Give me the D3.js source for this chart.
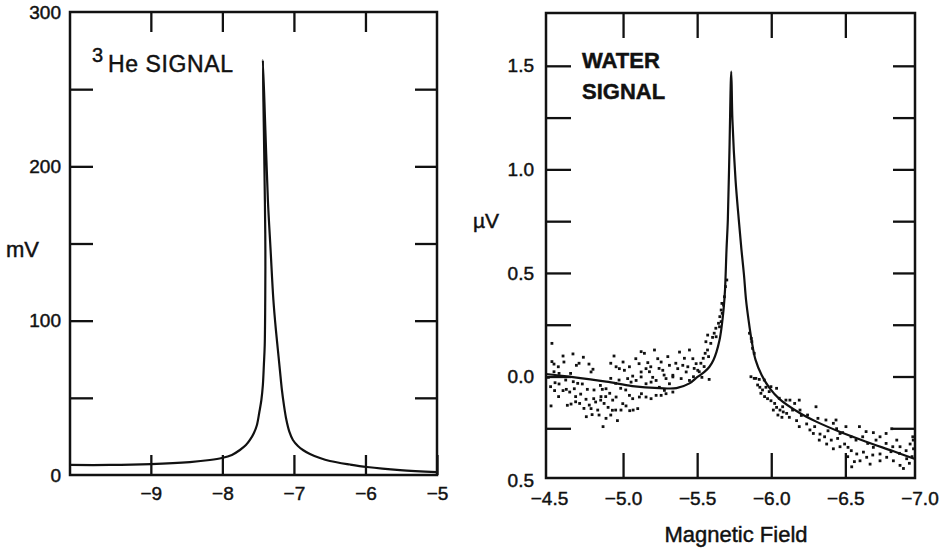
<!DOCTYPE html>
<html>
<head>
<meta charset="utf-8">
<script src="https://cdn.jsdelivr.net/npm/d3@7"></script>
<style>
  html, body { margin: 0; padding: 0; background: #fff; }
  svg { display: block; }
  text { font-family: "Liberation Sans", Arial, Helvetica, sans-serif; fill: #111; stroke: #111; stroke-width: 0.45px; }
</style>
</head>
<body>
<svg id="chart" width="940" height="552"></svg>
<script>
// ---------- DATA ----------
// Left panel: 3He signal (field, mV)
const heField  = [-10.133, -9.573, -9.0, -8.455, -8.175, -8.007, -7.867, -7.755, -7.671, -7.615, -7.559, -7.517, -7.483, -7.455,
                  -7.434, -7.420, -7.408, -7.401, -7.399, -7.406, -7.420, -7.434,
                  -7.399, -7.364, -7.326, -7.287, -7.252, -7.224, -7.196, -7.168, -7.140, -7.105, -7.063, -7.014, -6.944,
                  -6.874, -6.776, -6.636, -6.497, -6.217, -5.979, -5.517, -5.0];
const heSignal = [6.5, 6.5, 7.1, 8.4, 9.7, 11.0, 13.0, 16.2, 19.4, 22.7, 27.2, 32.4, 40.8, 48.6,
                  58.3, 71.3, 84.2, 113.4, 145.8, 178.2, 223.5, 268.9,
                  223.5, 178.2, 145.8, 113.4, 94.0, 81.0, 68.0, 55.1, 45.4, 35.6, 27.9, 22.7, 18.8,
                  16.2, 13.6, 11.0, 9.1, 6.8, 5.2, 3.2, 1.9];
const heXTicks = [-9, -8, -7, -6, -5];
const heYTicks = [0, 100, 200, 300];
const heYMinorTicks = [50, 100, 150, 200, 250];

// Right panel: water signal fit (field, µV)
const waterFitField  = [-4.48, -4.636, -4.886, -5.062, -5.245, -5.36, -5.448, -5.502, -5.549, -5.583, -5.610, -5.630, -5.651, -5.664,
                        -5.678, -5.688, -5.698, -5.707, -5.718, -5.730, -5.738, -5.759, -5.781, -5.799, -5.816, -5.830, -5.847,
                        -5.867, -5.894, -5.935, -5.989, -6.056, -6.192, -6.307, -6.483, -6.645, -6.821, -6.97];
const waterFitSignal = [0.012, -0.001, -0.025, -0.046, -0.056, -0.056, -0.033, -0.002, 0.022, 0.047, 0.080, 0.118, 0.176, 0.234,
                        0.321, 0.418, 0.611, 0.756, 1.094, 1.472, 1.239, 0.949, 0.756, 0.611, 0.490, 0.369, 0.272,
                        0.176, 0.080, 0.007, -0.056, -0.109, -0.176, -0.219, -0.273, -0.316, -0.360, -0.398];

// Right panel: measured points [field, µV]
const waterDots = [
  [-4.52,0.160],[-4.52,0.072],[-4.534,0.060],[-4.563,0.047],[-4.595,0.099],[-4.601,0.070],[-4.662,0.109],[-4.685,0.054],
  [-4.703,0.064],[-4.732,0.093],[-4.770,0.060],[-4.797,0.035],[-4.784,0.022],[-4.496,-0.004],[-4.511,-0.049],[-4.541,-0.030],
  [-4.568,-0.036],[-4.538,-0.068],[-4.565,-0.097],[-4.595,-0.068],[-4.617,-0.062],[-4.640,-0.075],[-4.671,-0.059],[-4.694,-0.033],
  [-4.725,-0.036],[-4.664,-0.025],[-4.514,-0.142],[-4.624,-0.139],[-4.649,-0.133],[-4.680,-0.122],[-4.707,-0.130],[-4.750,-0.110],
  [-4.772,-0.138],[-4.802,-0.107],[-4.815,-0.123],[-4.784,-0.155],[-4.752,-0.194],[-4.791,-0.184],[-4.829,-0.162],[-4.851,-0.097],
  [-4.860,-0.062],[-4.885,-0.059],[-4.847,-0.043],[-4.910,-0.081],[-4.930,-0.114],[-4.953,-0.099],[-4.899,-0.149],[-4.928,-0.163],
  [-4.885,-0.202],[-4.865,-0.242],[-4.962,-0.213],[-4.986,-0.162],[-4.998,-0.131],[-5.020,-0.142],[-5.045,-0.165],[-5.068,-0.162],
  [-5.099,-0.155],[-4.917,0.064],[-4.939,0.099],[-4.953,0.047],[-4.975,0.038],[-5.000,0.070],[-5.009,0.030],[-5.043,0.047],
  [-5.065,0.002],[-5.086,0.086],[-5.108,0.062],[-5.122,0.120],[-5.144,0.112],[-5.155,0.038],[-5.178,0.023],[-5.200,-0.004],
  [-5.212,0.128],[-5.234,0.086],[-5.257,0.070],[-5.268,0.030],[-5.302,0.096],[-5.313,0.054],[-5.336,0.006],[-5.381,0.118],
  [-5.403,0.054],[-5.448,0.128],[-5.471,0.086],[-5.493,0.062],[-5.504,0.030],[-5.031,-0.010],[-5.054,-0.027],[-5.088,-0.019],
  [-5.122,-0.002],[-5.155,-0.035],[-5.189,-0.027],[-5.223,-0.019],[-5.245,-0.052],[-5.290,-0.010],[-5.313,-0.035],[-5.336,-0.002],
  [-5.369,0.038],[-5.392,-0.010],[-5.426,0.022],[-5.448,-0.019],[-5.475,-0.001],[-5.043,-0.091],[-5.065,-0.107],[-5.110,-0.099],
  [-5.124,-0.083],[-5.155,-0.099],[-5.189,-0.107],[-5.223,-0.091],[-5.257,-0.091],[-5.279,-0.067],[-5.290,-0.083],[-5.336,-0.075],
  [-5.122,0.022],[-5.167,0.067],[-5.187,0.047],[-5.243,0.039],[-5.277,0.007],[-5.356,0.064],[-5.414,0.088],[-5.437,0.047],
  [-5.480,0.039],[-4.849,-0.114],[-4.883,-0.097],[-4.804,-0.065],[-4.759,-0.062],[-4.714,-0.085],[-4.680,-0.097],[-4.613,-0.017],
  [-4.646,0.015],[-4.568,0.015],[-4.534,0.023],[-4.917,-0.009],[-4.950,-0.033],[-4.984,-0.057],[-5.018,-0.065],[-4.973,-0.017],
  [-4.736,-0.154],[-4.838,-0.186],[-4.917,-0.186],[-4.950,-0.162],[-4.872,-0.130],
  // left flank of the peak
  [-5.525,0.064],[-5.541,0.088],[-5.554,0.112],[-5.570,0.128],[-5.577,0.096],[-5.547,0.048],[-5.592,0.160],[-5.604,0.189],
  [-5.615,0.209],[-5.626,0.233],[-5.644,0.257],[-5.653,0.289],[-5.662,0.321],[-5.667,0.353],[-5.559,0.168],[-5.514,0.023],
  [-5.532,-0.004],[-5.581,-0.014],[-5.571,0.200],[-5.628,0.192],[-5.651,0.240],[-5.662,0.265],[-5.669,0.305],[-5.678,0.345],
  [-5.684,0.385],[-5.691,0.434],[-5.700,0.466],
  // right flank and tail
  [-5.853,0.209],[-5.865,0.184],[-5.869,0.168],[-5.874,0.136],[-5.885,0.112],[-5.863,-0.001],[-5.896,-0.009],[-5.919,-0.014],
  [-5.908,-0.041],[-5.923,-0.052],[-5.941,-0.065],[-5.964,-0.052],[-5.986,-0.073],[-6.036,-0.057],[-5.930,-0.081],[-5.955,-0.097],
  [-5.975,-0.107],[-5.998,-0.117],[-6.023,-0.130],[-6.036,-0.149],[-6.059,-0.162],[-6.081,-0.171],[-6.014,-0.162],[-6.045,-0.186],
  [-6.072,-0.197],[-6.104,-0.178],[-6.126,-0.114],[-6.158,-0.130],[-6.194,-0.162],[-6.122,-0.197],[-6.171,-0.213],[-6.203,-0.188],
  [-6.239,-0.229],[-6.261,-0.258],[-6.293,-0.242],[-6.315,-0.202],[-6.284,-0.275],[-6.329,-0.278],[-6.360,-0.291],[-6.383,-0.262],
  [-6.405,-0.307],[-6.419,-0.226],[-6.441,-0.252],[-6.464,-0.275],[-6.374,-0.326],[-6.419,-0.349],[-6.464,-0.339],[-6.495,-0.326],
  [-6.518,-0.342],[-6.540,-0.358],[-6.577,-0.374],[-6.622,-0.365],[-6.644,-0.390],[-6.689,-0.271],[-6.734,-0.291],[-6.775,-0.275],
  [-6.813,-0.252],[-6.847,-0.307],[-6.869,-0.339],[-6.689,-0.342],[-6.734,-0.374],[-6.779,-0.390],[-6.824,-0.407],[-6.869,-0.429],
  [-6.914,-0.397],[-6.937,-0.326],[-6.960,-0.349],[-6.955,-0.291],[-6.910,-0.358],[-6.892,-0.444],[-6.543,-0.436],[-6.599,-0.407],
  [-6.667,-0.423],[-6.734,-0.407],[-6.572,-0.307],[-6.617,-0.291],[-6.651,-0.323],[-6.707,-0.307],[-6.775,-0.323],[-6.820,-0.339],
  [-6.865,-0.371],[-6.950,-0.387],[-6.958,-0.307],[-6.640,-0.266],[-6.595,-0.242],[-6.538,-0.291],[-6.482,-0.271],[-6.516,-0.387],
  [-6.561,-0.411],[-6.685,-0.379],[-6.808,-0.363],[-6.932,-0.419],[-6.099,-0.114],[-6.054,-0.105],[-6.189,-0.114],[-6.245,-0.186],
  [-6.302,-0.146],[-6.369,-0.210],[-6.437,-0.210],[-6.504,-0.242],[-6.448,-0.299],[-6.324,-0.307],[-6.189,-0.242],[-6.144,-0.162],
  [-6.077,-0.146],[-5.998,-0.049],[-5.953,-0.017],[-5.885,-0.009]
];
const waterXTicks = [-4.5, -5.0, -5.5, -6.0, -6.5, -7.0];
const waterXTickLabels = ["\u22124.5", "\u22125.0", "\u22125.5", "\u22126.0", "\u22126.5", "\u22127.0"];
const waterYTicks = [-0.5, 0.0, 0.5, 1.0, 1.5];
const waterYTickLabels = ["0.5", "0.0", "0.5", "1.0", "1.5"];
const waterYMinorTicks = [-0.25, 0, 0.25, 0.5, 0.75, 1.0, 1.25, 1.5];

// ---------- DRAWING ----------
const svg = d3.select("#chart");
const INK = "#111";

function styleAxis(g) {
  g.select(".domain").remove();
  g.selectAll(".tick line").attr("stroke", INK).attr("stroke-width", 2.3);
  g.selectAll(".tick text").attr("fill", INK).style("font-size", "19px")
    .style("font-family", '"Liberation Sans", Arial, Helvetica, sans-serif');
}

// ===== Left panel =====
const L = { left: 70, right: 437, top: 12, bottom: 475 };
const xL = d3.scaleLinear().domain([-10.13, -5]).range([L.left, L.right]);
const yL = d3.scaleLinear().domain([0, 300]).range([L.bottom, L.top]);
const gL = svg.append("g");

gL.append("g").attr("transform", `translate(0,${L.bottom})`)
  .call(d3.axisBottom(xL).tickValues(heXTicks).tickSizeInner(-20).tickSizeOuter(0).tickPadding(12)
        .tickFormat(d3.format("d")))
  .call(styleAxis);
gL.append("g").attr("transform", `translate(0,${L.top})`)
  .call(d3.axisTop(xL).tickValues(heXTicks.slice(0, 4)).tickSizeInner(-20).tickSizeOuter(0).tickFormat(""))
  .call(styleAxis);
gL.append("g").attr("transform", `translate(${L.left},0)`)
  .call(d3.axisLeft(yL).tickValues(heYMinorTicks).tickSizeInner(-23).tickSizeOuter(0).tickFormat(""))
  .call(styleAxis);
gL.append("g").attr("transform", `translate(${L.left},0)`)
  .call(d3.axisLeft(yL).tickValues(heYTicks).tickSize(0).tickPadding(9).tickFormat(d3.format("d")))
  .call(styleAxis);
gL.append("g").attr("transform", `translate(${L.right},0)`)
  .call(d3.axisRight(yL).tickValues(heYMinorTicks).tickSizeInner(-22).tickSizeOuter(0).tickFormat(""))
  .call(styleAxis);
gL.append("rect").attr("x", L.left).attr("y", L.top).attr("width", L.right - L.left).attr("height", L.bottom - L.top)
  .attr("fill", "none").attr("stroke", INK).attr("stroke-width", 2.5);

const heLine = d3.line().curve(d3.curveCatmullRom.alpha(0.5))
  .x((d, i) => xL(heField[i])).y((d, i) => yL(heSignal[i]));
gL.append("path").datum(heSignal).attr("d", heLine)
  .attr("fill", "none").attr("stroke", INK).attr("stroke-width", 2.2).attr("stroke-linejoin", "round");

gL.append("text").attr("x", 92).attr("y", 62).style("font-size", "20px").text("3");
gL.append("text").attr("x", 108).attr("y", 72).style("font-size", "23px").style("letter-spacing", "0.6px").text("He SIGNAL");
gL.append("text").attr("x", 6).attr("y", 257).style("font-size", "22px").text("mV");

// ===== Right panel =====
const R = { left: 546, right: 915, top: 13, bottom: 478 };
const xR = d3.scaleLinear().domain([-4.48, -6.97]).range([R.left, R.right]);
const yR = d3.scaleLinear().domain([-0.49, 1.755]).range([R.bottom, R.top]);
const gR = svg.append("g");

gR.append("g").attr("transform", `translate(0,${R.bottom})`)
  .call(d3.axisBottom(xR).tickValues(waterXTicks.slice(1, 5)).tickSizeInner(-25).tickSizeOuter(0).tickFormat(""))
  .call(styleAxis);
gR.append("g").attr("transform", `translate(0,${R.bottom})`)
  .call(d3.axisBottom(xR).tickValues(waterXTicks).tickSize(0).tickPadding(14)
        .tickFormat((d, i) => waterXTickLabels[i]))
  .call(styleAxis);
gR.append("g").attr("transform", `translate(0,${R.top})`)
  .call(d3.axisTop(xR).tickValues(waterXTicks.slice(1, 5)).tickSizeInner(-25).tickSizeOuter(0).tickFormat(""))
  .call(styleAxis);
gR.append("g").attr("transform", `translate(${R.left},0)`)
  .call(d3.axisLeft(yR).tickValues(waterYMinorTicks).tickSizeInner(-25).tickSizeOuter(0).tickFormat(""))
  .call(styleAxis);
gR.append("g").attr("transform", `translate(${R.left},0)`)
  .call(d3.axisLeft(yR).tickValues(waterYTicks).tickSize(0).tickPadding(12)
        .tickFormat((d, i) => waterYTickLabels[i]))
  .call(styleAxis);
gR.append("g").attr("transform", `translate(${R.right},0)`)
  .call(d3.axisRight(yR).tickValues(waterYMinorTicks).tickSizeInner(-22).tickSizeOuter(0).tickFormat(""))
  .call(styleAxis);
gR.append("rect").attr("x", R.left).attr("y", R.top).attr("width", R.right - R.left).attr("height", R.bottom - R.top)
  .attr("fill", "none").attr("stroke", INK).attr("stroke-width", 2.5);

gR.append("g").selectAll("rect.dot").data(waterDots).join("rect")
  .attr("class", "dot")
  .attr("x", d => xR(d[0]) - 1.4).attr("y", d => yR(d[1]) - 1.4)
  .attr("width", 2.8).attr("height", 2.8).attr("fill", INK);

const waterLine = d3.line().curve(d3.curveCatmullRom.alpha(0.5))
  .x((d, i) => xR(waterFitField[i])).y((d, i) => yR(waterFitSignal[i]));
gR.append("path").datum(waterFitSignal).attr("d", waterLine)
  .attr("fill", "none").attr("stroke", INK).attr("stroke-width", 2.2).attr("stroke-linejoin", "round");

gR.append("text").attr("x", 582).attr("y", 68).style("font-size", "22px").style("font-weight", "bold").text("WATER");
gR.append("text").attr("x", 582).attr("y", 99).style("font-size", "22px").style("font-weight", "bold").text("SIGNAL");
gR.append("text").attr("x", 473).attr("y", 228).style("font-size", "21px").text("\u00b5V");
gR.append("text").attr("x", 736).attr("y", 542).attr("text-anchor", "middle").style("font-size", "22px").text("Magnetic Field");
</script>
</body>
</html>
